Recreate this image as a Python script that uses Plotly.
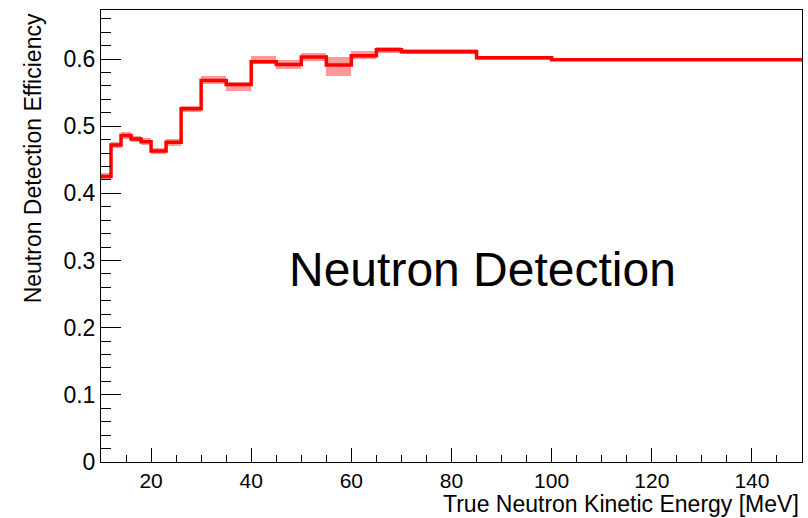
import plotly.graph_objects as go

# Bin edges [MeV]
edges = [10, 12, 14, 16, 18, 20, 23, 26, 30, 35, 40, 45, 50, 55, 60, 65, 70, 85, 100, 150]
# Efficiency per bin
eff = [0.425, 0.472, 0.486, 0.481, 0.477, 0.463, 0.476, 0.526, 0.568, 0.562,
       0.596, 0.592, 0.603, 0.591, 0.605, 0.614, 0.611, 0.602, 0.599]
# Asymmetric uncertainties
err_hi = [0.005, 0.005, 0.005, 0.004, 0.005, 0.0045, 0.005, 0.0045, 0.006, 0.0045,
          0.008, 0.006, 0.0055, 0.0125, 0.007, 0.0045, 0.0035, 0.003, 0.002]
err_lo = [0.005, 0.004, 0.005, 0.004, 0.005, 0.0045, 0.005, 0.0045, 0.0055, 0.0095,
          0.003, 0.007, 0.0055, 0.016, 0.005, 0.0045, 0.0035, 0.003, 0.002]

centers = [(a + b) / 2 for a, b in zip(edges[:-1], edges[1:])]
widths = [b - a for a, b in zip(edges[:-1], edges[1:])]
band_base = [e - l for e, l in zip(eff, err_lo)]
band_h = [h + l for h, l in zip(err_hi, err_lo)]

fig = go.Figure()
fig.add_trace(go.Bar(
    x=centers, y=band_h, base=band_base, width=widths,
    marker=dict(color="rgba(255,0,0,0.4)", line=dict(width=0)),
    showlegend=False, hoverinfo="skip",
))
fig.add_trace(go.Scatter(
    x=edges, y=eff + [eff[-1]], mode="lines", line_shape="hv",
    line=dict(color="#ff0000", width=3.5), showlegend=False,
))

font_family = "Liberation Sans, Arial, sans-serif"
axis_common = dict(
    showline=True, linecolor="black", linewidth=1, mirror=True,
    ticks="inside", tickcolor="black", showgrid=False, zeroline=False,
)
fig.update_xaxes(range=[10, 150], dtick=20, tick0=0, ticklen=14,
                 tickfont=dict(family=font_family, size=21, color="black"),
                 minor=dict(ticks="inside", dtick=5, tick0=0, ticklen=7, tickcolor="black"),
                 **axis_common)
fig.update_yaxes(range=[0, 0.673], dtick=0.1, tick0=0, ticklen=20,
                 tickfont=dict(family=font_family, size=23, color="black"),
                 minor=dict(ticks="inside", dtick=0.02, tick0=0, ticklen=10, tickcolor="black"),
                 **axis_common)

fig.update_layout(
    width=808, height=518,
    margin=dict(l=101, r=6, t=10, b=56),
    plot_bgcolor="white", paper_bgcolor="white",
    bargap=0,
    annotations=[
        dict(text="True Neutron Kinetic Energy [MeV]", xref="paper", yref="paper",
             x=0.997, y=-0.1239, xanchor="right", yanchor="bottom", showarrow=False,
             borderpad=0,
             font=dict(family=font_family, size=23, color="black")),
        dict(text="Neutron Detection Efficiency", xref="paper", yref="paper",
             x=-0.097, y=0.997, xanchor="center", yanchor="top", textangle=-90,
             showarrow=False, font=dict(family=font_family, size=23, color="black")),
        dict(text="Neutron Detection", xref="paper", yref="paper",
             x=0.2653, y=0.425, xanchor="left", yanchor="middle", showarrow=False,
             font=dict(family=font_family, size=48, color="black")),
    ],
)

fig.write_html("out.html")
